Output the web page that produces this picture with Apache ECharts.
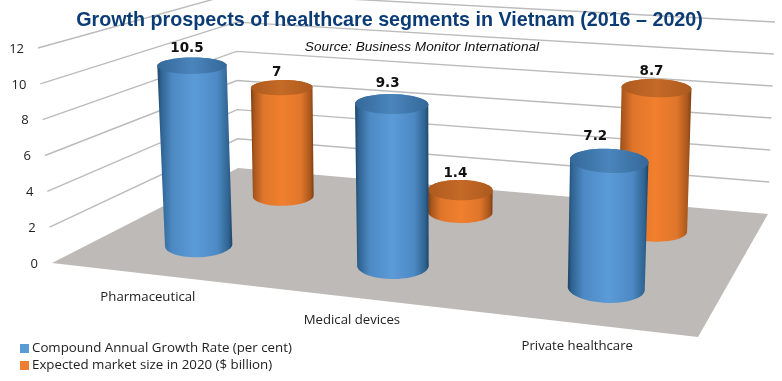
<!DOCTYPE html>
<html><head><meta charset="utf-8">
<style>html,body{margin:0;padding:0;background:#fff}#c{width:782px;height:381px}</style>
<script src="https://cdn.jsdelivr.net/npm/echarts@6/dist/echarts.min.js"></script>
</head><body><div id="c"></div>
<script>
var categories = ['Pharmaceutical', 'Medical devices', 'Private healthcare'];
var growthRate = [10.5, 9.3, 7.2];
var marketSize = [7, 1.4, 8.7];
var yTicks = [0, 2, 4, 6, 8, 10, 12];
var seriesNames = ['Compound Annual Growth Rate (per cent)', 'Expected market size in 2020 ($ billion)'];
var yMax = 12;

// Corners of the perspective box: floor, then the plane at yMax.
var FLOOR = [[52,263],[698,337],[768,214],[238,168]];
var TOP = [[38,48],[707,113],[775,22],[236,-7]];
var UI_FONT = '"Open Sans", sans-serif';

function perspectiveWeights(q){
  var A=q[0],B=q[1],C=q[2],D=q[3];
  var dx1=B[0]-C[0],dy1=B[1]-C[1],dx2=D[0]-C[0],dy2=D[1]-C[1];
  var sx=A[0]-B[0]+C[0]-D[0],sy=A[1]-B[1]+C[1]-D[1];
  var det=dx1*dy2-dx2*dy1;
  var g=(sx*dy2-dx2*sy)/det,h=(dx1*sy-sx*dy1)/det;
  return [1,1+g,1+g+h,1+h];
}
var W=perspectiveWeights(FLOOR);
function onPlane(q,u,v){
  var k=[(1-u)*(1-v)*W[0],u*(1-v)*W[1],u*v*W[2],(1-u)*v*W[3]],s=k[0]+k[1]+k[2]+k[3],x=0,y=0;
  for(var i=0;i<4;i++){x+=k[i]*q[i][0];y+=k[i]*q[i][1];}
  return [x/s,y/s];
}
function project(u,v,t){
  var p=onPlane(FLOOR,u,v),q=onPlane(TOP,u,v);
  return [p[0]+(q[0]-p[0])*t,p[1]+(q[1]-p[1])*t];
}
function hull(pts){
  var s=pts.slice().sort(function(a,b){return a[0]-b[0]||a[1]-b[1];});
  function cr(o,a,b){return (a[0]-o[0])*(b[1]-o[1])-(a[1]-o[1])*(b[0]-o[0]);}
  var lo=[],up=[],i;
  for(i=0;i<s.length;i++){while(lo.length>1&&cr(lo[lo.length-2],lo[lo.length-1],s[i])<=0)lo.pop();lo.push(s[i]);}
  for(i=s.length-1;i>=0;i--){while(up.length>1&&cr(up[up.length-2],up[up.length-1],s[i])<=0)up.pop();up.push(s[i]);}
  lo.pop();up.pop();return lo.concat(up);
}
var RU=0.056,RV=0.11,SHEAR=0.6,U_SHIFT=0.003;
function ring(u,v,t){
  var c=project(u,v,t),pu=project(u+RU,v,t),pv=project(u,v+RV,t);
  var ux=pu[0]-c[0],uy=pu[1]-c[1],vx=(pv[0]-c[0])*SHEAR,vy=pv[1]-c[1],out=[];
  for(var i=0;i<60;i++){var a=i/60*Math.PI*2,ca=Math.cos(a),sa=Math.sin(a);
    out.push([c[0]+ux*ca+vx*sa,c[1]+uy*ca+vy*sa]);}
  return out;
}
function grad(stops){
  return new echarts.graphic.LinearGradient(0,0,1,0,stops.map(function(c,i){return {offset:c[0],color:c[1]};}));
}
var BLUE_BODY=[[0,'#1e4466'],[.05,'#2f6391'],[.2,'#4d8ac4'],[.5,'#5b9bd8'],[.8,'#4d8ac4'],[.95,'#2f6391'],[1,'#1e4466']];
var BLUE_TOP=[[0,'#34689a'],[.5,'#4a85bb'],[1,'#34689a']];
var ORANGE_BODY=[[0,'#7c3d12'],[.05,'#a8561c'],[.2,'#e0762b'],[.5,'#f17f2e'],[.8,'#e0762b'],[.95,'#a8561c'],[1,'#7c3d12']];
var ORANGE_TOP=[[0,'#ad5a1e'],[.5,'#c56a27'],[1,'#ad5a1e']];
// Small hand placement of the value labels, as [dx, dy] per category.
var BLUE_LABEL=[[-1,1],[0,-1],[-10,-2]];
var ORANGE_LABEL=[[-1,3],[-1,4],[-1,2]];

function normaliser(api,params){
  return function(cat,val){
    var p=api.coord([cat,val]),r=params.coordSys;
    return {u:(p[0]-r.x)/r.width,t:(r.y+r.height-p[1])/r.height};
  };
}
function cylinder(depth,body,top,nudge){
  return function(params,api){
    var n=normaliser(api,params),val=api.value(1);
    var b=n(api.value(0),0),h=n(api.value(0),val),u=b.u+U_SHIFT;
    var rb=ring(u,depth,0),rt=ring(u,depth,h.t);
    var tc=project(u,depth,h.t),d=nudge[api.value(0)];
    var minY=Math.min.apply(null,rt.map(function(p){return p[1];}));
    return {type:'group',children:[
      {type:'polygon',shape:{points:hull(rb.concat(rt))},style:{fill:grad(body)}},
      {type:'polygon',shape:{points:rt},style:{fill:grad(top)}},
      {type:'text',x:tc[0]-4+d[0],y:minY-10+d[1],style:{text:String(val),font:'bold 13.5px "DejaVu Sans"',fill:'#111',align:'center',verticalAlign:'middle'}}
    ]};
  };
}
function wallItem(params,api){
  var tick=api.value(0),p=api.coord([0,tick]),r=params.coordSys;
  var t=(r.y+r.height-p[1])/r.height;
  var a=project(0,0,t),b=project(0,1,t),c=project(1,1,t),kids=[];
  if(tick>0){
    kids.push({type:'polyline',shape:{points:[a,b,c]},style:{stroke:'#bbbbbb',lineWidth:1.4,fill:null}});
  }
  kids.push({type:'text',x:a[0]-14,y:a[1]+1,style:{text:String(tick),font:'13px '+UI_FONT,fill:'#222',align:'right',verticalAlign:'middle'}});
  return {type:'group',children:kids};
}
function floorItem(){
  return {type:'polygon',shape:{points:[project(0,0,0),project(1,0,0),project(1,1,0),project(0,1,0)]},style:{fill:'#bdbab7'}};
}
function catItem(params,api){
  var n=normaliser(api,params),b=n(api.value(0),0),p=project(b.u,0,0);
  return {type:'text',x:p[0]+1,y:p[1]+23,style:{text:categories[api.value(0)],font:'13.2px '+UI_FONT,fill:'#222',align:'center',verticalAlign:'middle'}};
}
function pairs(vals){return vals.map(function(v,i){return [i,v];});}

var chart=echarts.init(document.getElementById('c'),null,{renderer:'canvas'});
chart.setOption({
  animation:false,
  backgroundColor:'#fff',
  title:[
    {text:'Growth prospects of healthcare segments in Vietnam (2016 – 2020)',left:384.5,top:6,textAlign:'center',
     textStyle:{fontFamily:'"Liberation Sans"',fontWeight:'bold',fontSize:19.7,color:'#0b3c75'}},
    {text:'Source: Business Monitor International',left:417,top:35,textAlign:'center',
     textStyle:{fontFamily:'"Liberation Sans"',fontStyle:'italic',fontWeight:'normal',fontSize:13.65,color:'#111'}}
  ],
  legend:{data:seriesNames,orient:'vertical',left:20,top:342,itemWidth:9,itemHeight:9,itemGap:4,padding:0,
    textStyle:{fontFamily:'"Open Sans"',fontSize:13.3,color:'#222',padding:[0,0,0,-2]},icon:'rect'},
  grid:{left:0,right:0,top:0,bottom:0},
  xAxis:{type:'category',data:categories,show:false},
  yAxis:{type:'value',min:0,max:yMax,interval:2,show:false},
  series:[
    {type:'custom',name:'floor',z:1,silent:true,data:[[0]],renderItem:floorItem,clip:false},
    {type:'custom',name:'walls',z:2,silent:true,data:yTicks.map(function(t){return [t];}),encode:{x:-1,y:0},renderItem:wallItem,clip:false},
    {type:'custom',name:'cats',z:2,silent:true,data:categories.map(function(c,i){return [i];}),encode:{x:0,y:-1},renderItem:catItem,clip:false},
    {type:'custom',name:seriesNames[1],z:3,data:pairs(marketSize),encode:{x:0,y:1},itemStyle:{color:'#ed7d31'},renderItem:cylinder(.75,ORANGE_BODY,ORANGE_TOP,ORANGE_LABEL),clip:false},
    {type:'custom',name:seriesNames[0],z:4,data:pairs(growthRate),encode:{x:0,y:1},itemStyle:{color:'#5b9bd5'},renderItem:cylinder(.25,BLUE_BODY,BLUE_TOP,BLUE_LABEL),clip:false}
  ]
});
</script></body></html>
